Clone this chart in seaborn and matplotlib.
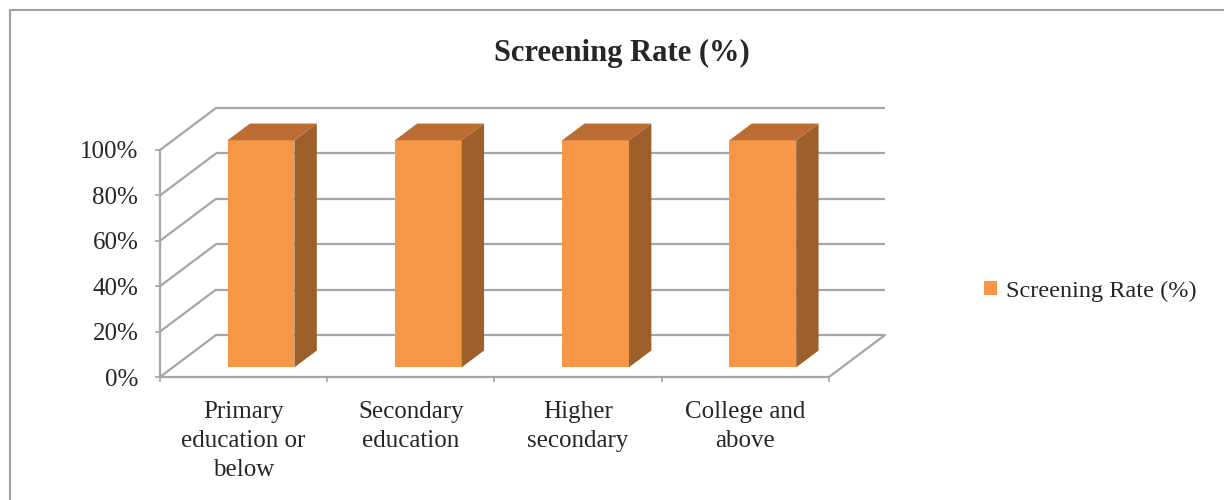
import matplotlib
matplotlib.use("Agg")
import matplotlib.pyplot as plt
from matplotlib.patches import Polygon, Patch
from matplotlib.lines import Line2D
import pandas as pd
import seaborn as sns

# data
categories = ["Primary\neducation or\nbelow", "Secondary\neducation",
              "Higher\nsecondary", "College and\nabove"]
screening_rate = [100, 100, 100, 100]
y_ticks = [0, 20, 40, 60, 80, 100]
y_tick_labels = ["0%", "20%", "40%", "60%", "80%", "100%"]
series_name = "Screening Rate (%)"

df = pd.DataFrame({"Category": categories, "Rate": screening_rate})

sns.set_style("white")
plt.rcParams["font.family"] = ["Liberation Serif", "DejaVu Serif"]

W, H = 1224, 500
fig = plt.figure(figsize=(W / 100, H / 100), dpi=100)
# front plane of the 3d box, in pixels
left, right, top, bottom = 160, 829, 150, 377
ax = fig.add_axes([left / W, (H - bottom) / H, (right - left) / W, (bottom - top) / H])

front = "#F79646"
side = "#9E602B"
topc = "#BB6D33"
grid = "#A6A6A6"

sns.barplot(data=df, x="Category", y="Rate", color=front, width=0.4,
            saturation=1, ax=ax, zorder=3, edgecolor="none")
ax.set_xlim(-0.5, 3.5)
ax.set_ylim(0, 100)

# depth offset of back wall in data units
px_x = (right - left) / 4
px_y = (bottom - top) / 100
DX = 56 / px_x
DY = 42 / px_y

# back wall grid + side wall diagonals
for t in y_ticks:
    ax.plot([-0.5 + DX, 3.5 + DX], [t + DY, t + DY], color=grid, lw=1.6,
            clip_on=False, zorder=1, solid_capstyle="butt")
    ax.plot([-0.5, -0.5 + DX], [t, t + DY], color=grid, lw=1.6,
            clip_on=False, zorder=1)
# floor right edge
ax.plot([3.5, 3.5 + DX], [0, DY], color=grid, lw=1.6, clip_on=False, zorder=1)

# turn flat bars into boxes
sx, sy = 0.31 * DX, 0.23 * DY
bd = 0.40
for p in list(ax.patches):
    p.set_clip_on(False)
    p.set_x(p.get_x() + sx)
    p.set_y(p.get_y() + sy)
    x0, y0 = p.get_x(), p.get_y()
    x1, y1 = x0 + p.get_width(), y0 + p.get_height()
    ox, oy = bd * DX, bd * DY
    ax.add_patch(Polygon([(x0, y1), (x1, y1), (x1 + ox, y1 + oy), (x0 + ox, y1 + oy)],
                         closed=True, facecolor=topc, edgecolor="none",
                         clip_on=False, zorder=3))
    ax.add_patch(Polygon([(x1, y0), (x1 + ox, y0 + oy), (x1 + ox, y1 + oy), (x1, y1)],
                         closed=True, facecolor=side, edgecolor="none",
                         clip_on=False, zorder=3))

for s in ["top", "right"]:
    ax.spines[s].set_visible(False)
for s in ["left", "bottom"]:
    ax.spines[s].set_color(grid)
    ax.spines[s].set_linewidth(1.6)

ax.set_yticks(y_ticks)
ax.set_yticklabels(y_tick_labels)
ax.tick_params(axis="y", length=3.6, width=1.2, color=grid, pad=12,
               labelsize=18, direction="out", left=True)
ax.set_xticks(range(len(categories)))
ax.set_xticklabels(categories, linespacing=1.42)
ax.set_xticks([-0.5, 0.5, 1.5, 2.5, 3.5], minor=True)
ax.tick_params(axis="x", which="major", length=0, pad=17, labelsize=18)
ax.tick_params(axis="x", which="minor", length=3.6, width=1.2, color=grid,
               direction="out", bottom=True)
ax.set_xlabel("")
ax.set_ylabel("")

fig.text(622 / W, (H - 53) / H, series_name, ha="center", va="center",
         fontsize=22, fontweight="bold")

fig.legend(handles=[Patch(facecolor=front, edgecolor="none", label=series_name)],
           loc="center left", bbox_to_anchor=(962 / W, (H - 291) / H),
           frameon=False, fontsize=17.5, handlelength=0.55, handleheight=0.55,
           handletextpad=0.35)

# chart area border
fig.add_artist(Line2D([10 / W, 10 / W], [0, (H - 10) / H], color="#A0A0A0", lw=1.5))
fig.add_artist(Line2D([10 / W, 1], [(H - 10) / H, (H - 10) / H], color="#A0A0A0", lw=1.5))

fig.savefig("out.png", dpi=100)
